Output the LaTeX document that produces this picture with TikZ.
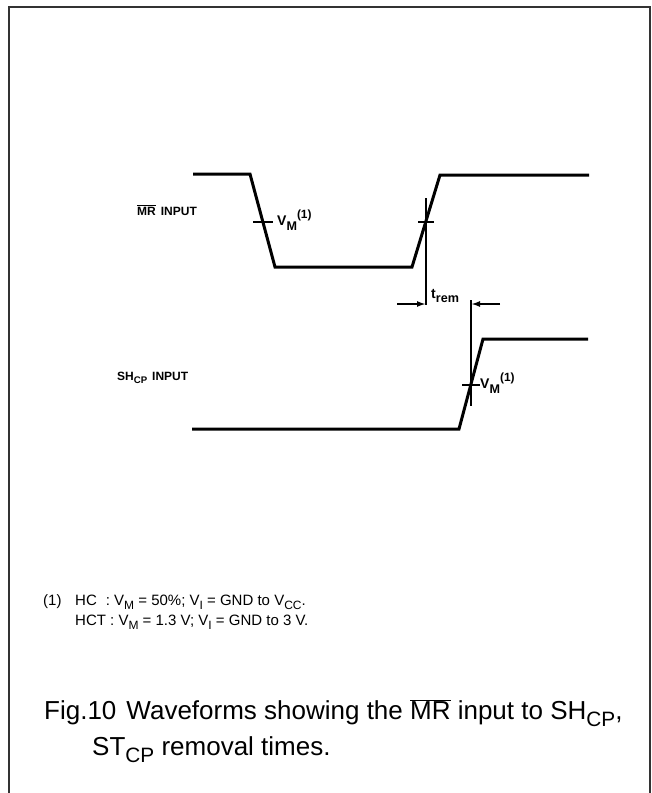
\documentclass[tikz,border=0pt]{standalone}
\usepackage{fontspec}
\setmainfont{Liberation Sans}
\usetikzlibrary{arrows.meta}
\newcommand\dn[1]{\raisebox{-0.28em}{\scalebox{0.8}{#1}}}
\newcommand\dnb[1]{\raisebox{-0.35em}{\scalebox{0.9}{#1}}}
\newcommand\up[1]{\raisebox{0.55em}{\scalebox{0.85}{#1}}}
\newcommand\ovl[1]{$\overline{\hbox{#1}}$}
\begin{document}
\begin{tikzpicture}[x=1pt,y=-1pt,
  frame/.style={line width=1.4pt,draw=black!80},
  wave/.style={line width=3pt,line join=miter,line cap=butt},
  tickmark/.style={line width=2pt},
  marker/.style={line width=1.5pt},
  dimarrow/.style={line width=1.8pt,-{Latex[length=9pt,width=6pt]}},
  lbl/.style={font=\fontsize{12}{14}\selectfont\bfseries, inner sep=0pt},
  vm/.style={font=\fontsize{14}{16}\selectfont\bfseries, inner sep=0pt, anchor=west},
  note/.style={font=\fontsize{15}{17}\selectfont, inner sep=0pt, anchor=base west},
  captext/.style={font=\fontsize{26}{30}\selectfont, inner sep=0pt, anchor=base west}]
\useasboundingbox (0,0) rectangle (652,793);
\fill[white] (0,0) rectangle (652,793);
\draw[frame] (9,793) -- (9,7) -- (650,7) -- (650,793);

% MR waveform
\coordinate (m1) at (193,174);
\coordinate (m2) at (250,174);
\coordinate (m3) at (275,267);
\coordinate (m4) at (412,267);
\coordinate (m5) at (440,175);
\coordinate (m6) at (589,175);
\draw[wave] (m1) -- (m2) -- (m3) -- (m4) -- (m5) -- (m6);
\coordinate (mf) at (263,222);
\coordinate (mr) at (426,222);
\draw[tickmark] ([xshift=-10pt]mf) -- ([xshift=10pt]mf);
\draw[tickmark] ([xshift=-8pt]mr) -- ([xshift=8pt]mr);
\node[vm] (vm1) at (277,220) {V\dnb{M}\up{(1)}};

% SH waveform
\coordinate (s1) at (192,429);
\coordinate (s2) at (459,429);
\coordinate (s3) at (483,339);
\coordinate (s4) at (588,339);
\draw[wave] (s1) -- (s2) -- (s3) -- (s4);
\coordinate (sr) at (471,385);
\draw[tickmark] ([xshift=-9pt]sr) -- ([xshift=9pt]sr);
\node[vm] (vm2) at (480,383) {V\dnb{M}\up{(1)}};

% marker lines
\coordinate (ta) at (426,198);
\coordinate (tb) at (426,305);
\coordinate (tc) at (471,300);
\coordinate (td) at (471,406);
\draw[marker] (ta) -- (tb);
\draw[marker] (tc) -- (td);
\coordinate (la) at (397,304);
\coordinate (lb) at (426,304);
\coordinate (ra) at (500,304);
\coordinate (rb) at (471,304);
\draw[dimarrow] (la) -- (lb);
\draw[dimarrow] (ra) -- (rb);
\node[vm] (trem) at (431,296) {t\dnb{rem}};

% labels
\node[lbl, anchor=west] (mrlbl) at (137,210) {\ovl{MR}\hspace{5pt}INPUT};
\node[lbl, anchor=west] (shlbl) at (117,378) {SH\dn{CP}\hspace{5pt}INPUT};

% footnote
\node[note] (n1) at (43,605) {(1)};
\node[note] (n2) at (75,605) {HC\hspace{9pt}: V\dn{M} = 50\%; V\dn{I} = GND to V\dn{CC}.};
\node[note] (n3) at (75,625) {HCT : V\dn{M} = 1.3 V; V\dn{I} = GND to 3 V.};

% caption
\node[captext] (c1) at (44,719) {Fig.10\hspace{10pt}Waveforms showing the \ovl{MR} input to SH\dn{CP},};
\node[captext] (c2) at (92,755) {ST\dn{CP} removal times.};
\end{tikzpicture}
\end{document}
